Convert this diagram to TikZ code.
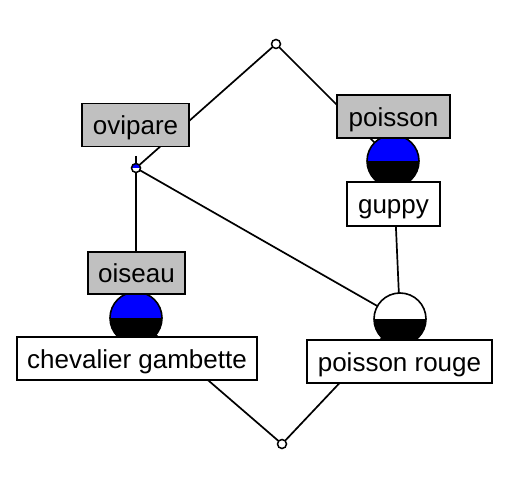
\documentclass[tikz,border=0pt]{standalone}
\usepackage{fontspec}
\setmainfont{Liberation Sans}
\usetikzlibrary{backgrounds}
\definecolor{boxgray}{RGB}{192,192,192}
\definecolor{pureblue}{RGB}{0,0,255}
\tikzset{
  lbl/.style={draw=black, line width=1.6pt, minimum height=43pt, inner sep=0pt, text height=26pt, text depth=6pt, font=\fontsize{26}{29}\selectfont},
  attr/.style={lbl, fill=boxgray},
  obj/.style={lbl, fill=white},
  edge/.style={line width=1.7pt},
  big/.style={circle, draw=black, line width=1.6pt, minimum size=52pt, inner sep=0pt},
  small/.style={circle, draw=black, line width=1.5pt, fill=white, minimum size=9pt, inner sep=0pt},
  halves/.style 2 args={path picture={
    \fill[#1] (path picture bounding box.west) rectangle (path picture bounding box.north east);
    \fill[#2] (path picture bounding box.west) rectangle (path picture bounding box.south east);}}
}
\begin{document}
\begin{tikzpicture}[x=1pt,y=1pt]
\useasboundingbox (0,0) rectangle (527,482);
% concept nodes
\node[small] (top) at (276,438) {};
\node[small, halves={pureblue}{white}] (ovi) at (136,314) {};
\node[big, halves={pureblue}{black}] (poi) at (393,321) {};
\node[big, halves={pureblue}{black}] (ois) at (136,164) {};
\node[big, halves={white}{black}] (pr) at (400,163) {};
\node[small] (bot) at (282,38) {};
\coordinate (tk) at (136,326);
% labels
\node[attr, minimum width=107pt] (lovi) at (135.5,357) {ovipare};
\node[attr, minimum width=113pt] (lpoi) at (393.5,365.5) {poisson};
\node[obj, minimum width=93pt, minimum height=44pt] (lgup) at (393.5,278) {guppy};
\node[attr, minimum width=97pt, minimum height=42pt] (lois) at (136.5,209) {oiseau};
\node[obj, minimum width=240pt] (lche) at (137,123.5) {chevalier gambette};
\node[obj, minimum width=185pt] (lpr) at (399.5,120.5) {poisson rouge};
% edges
\begin{scope}[on background layer]
\draw[edge] (top.center) -- (ovi.center);
\draw[edge] (top.center) -- (poi.center);
\draw[edge] (tk) -- (ois.center);
\draw[edge] (ovi.center) -- (pr.center);
\draw[edge] (poi.center) -- (pr.center);
\draw[edge] (ois.center) -- (bot.center);
\draw[edge] (pr.center) -- (bot.center);
\end{scope}
\end{tikzpicture}
\end{document}
